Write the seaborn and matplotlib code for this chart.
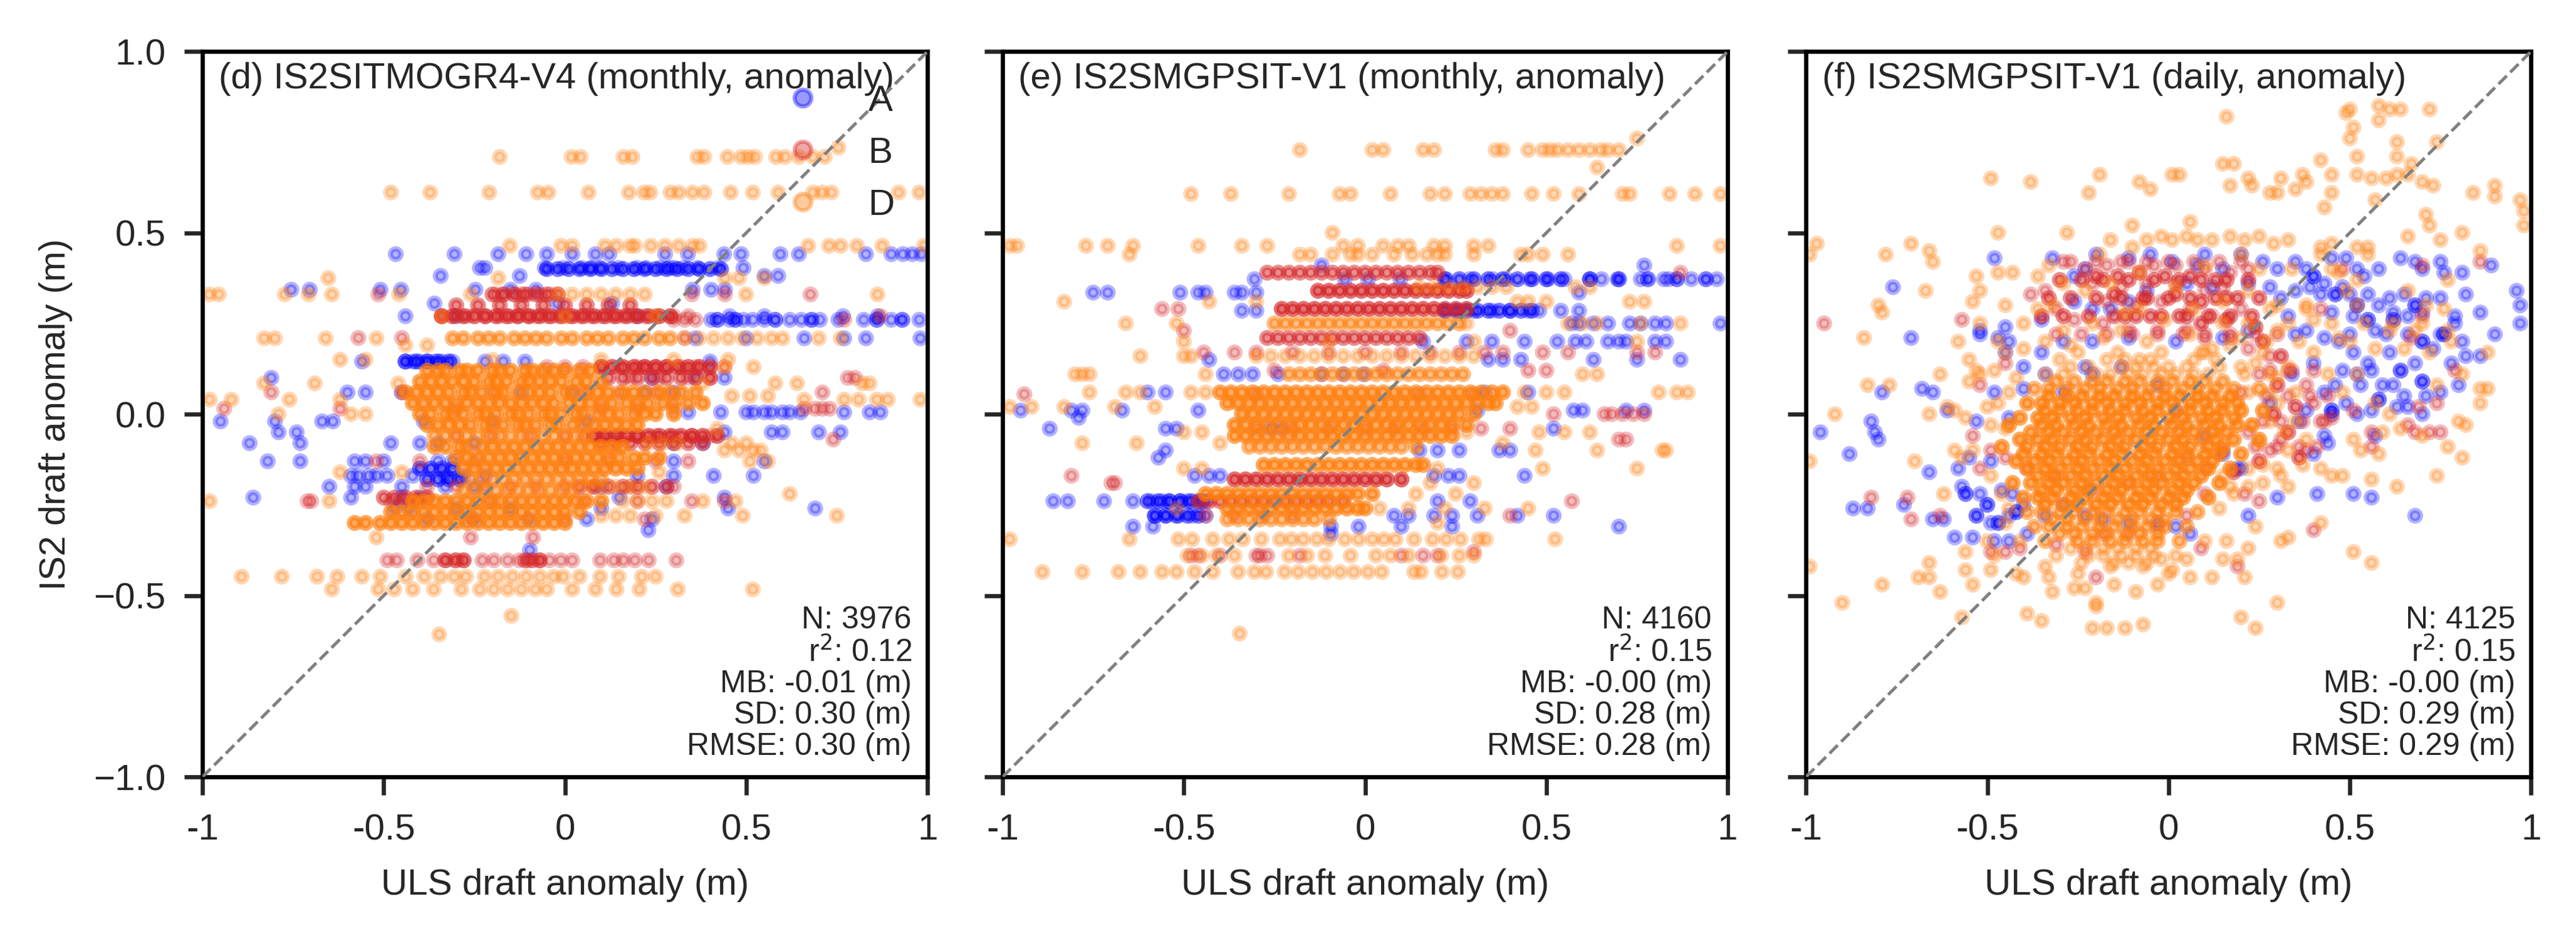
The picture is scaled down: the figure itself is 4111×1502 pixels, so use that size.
import numpy as np
import pandas as pd
import seaborn as sns
import matplotlib.pyplot as plt
from matplotlib.lines import Line2D

# ---- labels / stats -------------------------------------------------------
sites = ['A', 'B', 'D']
site_colors = ['blue', 'tab:red', 'tab:orange']
panel_titles = ['(d) IS2SITMOGR4-V4 (monthly, anomaly)',
                '(e) IS2SMGPSIT-V1 (monthly, anomaly)',
                '(f) IS2SMGPSIT-V1 (daily, anomaly)']
n_obs = [3976, 4160, 4125]
r2_vals = ['0.12', '0.15', '0.15']
mb_vals = ['-0.01', '-0.00', '-0.00']
sd_vals = ['0.30', '0.28', '0.29']
rmse_vals = ['0.30', '0.28', '0.29']
tick_vals = [-1, -0.5, 0, 0.5, 1]
xtick_labels = ['-1', '-0.5', '0', '0.5', '1']

# ---- panel (d): rows of (IS2 anomaly, [ULS anomalies]) --
# rows with three entries are (IS2, number of stacked obs, [ULS])
d_A_rows = [
    (0.441, [-0.467, -0.305, -0.184, -0.107, -0.05, 0.02, 0.084, 0.122, 0.276, 0.339, 0.439, 0.486, 0.594, 0.645, 0.83, 0.90, 0.932, 0.958, 0.983]),
    (0.403, [-0.235, -0.22, -0.056, -0.005, 0.046, 0.071, 0.097, 0.148, 0.199, 0.224, 0.263, 0.288, 0.30, 0.327, 0.365, 0.422, 0.492]),
    (0.381, [-0.343, -0.125, 0.55, 0.588]),
    (0.343, [-0.755, -0.704, -0.509, -0.452, -0.247, -0.15, -0.08, 0.352, 0.403, 0.441]),
    (0.305, [-0.36, -0.02, 0.13]),
    (0.27, [-0.44, -0.30, 0.20, 0.454, 0.55, 0.767, 0.862]),
    (0.26, [0.403, 0.454, 0.492, 0.518, 0.55, 0.62, 0.652, 0.703, 0.754, 0.824, 0.90, 0.977]),
    (0.209, [0.36, 0.50, 0.66, 0.77, 0.83, 0.98]),
    (0.145, [-0.56, -0.44, -0.42, -0.40, -0.38, -0.36, -0.34, -0.31, -0.22, -0.17, -0.11, 0.40]),
    (0.10, [-0.81, 0.24, 0.36, 0.44]),
    (0.06, [-0.60, -0.55, -0.45, -0.12, 0.02, 0.22, 0.30]),
    (0.005, [0.34, 0.43, 0.50, 0.52, 0.55, 0.57, 0.60, 0.62, 0.65, 0.77, 0.84, 0.87]),
    (-0.02, [-0.95, -0.80, -0.67, -0.64, -0.39, -0.20, 0.06]),
    (-0.05, [-0.79, -0.74, 0.44, 0.57, 0.60, 0.70, 0.76]),
    (-0.08, [-0.87, -0.73, -0.48, -0.40, -0.35, -0.25, 0.30, 0.38]),
    (-0.13, [-0.82, -0.73, -0.58, -0.55, -0.50, -0.35, -0.31, 0.30, 0.55]),
    (-0.17, [-0.59, -0.57, -0.54, -0.52, -0.49, -0.42, -0.33, -0.28, -0.22, 0.20, 0.30, 0.41, 0.52]),
    (-0.20, [-0.65, -0.58, -0.55, -0.45, -0.33, -0.25, 0.10, 0.28]),
    (-0.23, [-0.86, -0.59, -0.45, -0.40, 0.15, 0.44]),
    (-0.26, [-0.47, -0.43, -0.30, -0.15, 0.10, 0.45, 0.69]),
    (-0.29, [-0.38, -0.25, -0.10, 0.06, 0.24]),
    (-0.32, [0.23]),
    (-0.375, [-0.097]),
    (0.40, 2, [-0.05, -0.02, 0.01, 0.04, 0.07, 0.10, 0.13, 0.16, 0.19, 0.22, 0.25, 0.28, 0.31, 0.34, 0.37, 0.40, 0.43]),
    (0.145, 2, [-0.44, -0.41, -0.38, -0.35, -0.32]),
    (-0.15, 2, [-0.40, -0.37, -0.34, -0.31]),
    (-0.18, 2, [-0.38, -0.35, -0.32, -0.29]),
    (0.26, 2, [0.42, 0.47, 0.58, 0.68, 0.86, 0.93]),
]
d_B_rows = [
    (0.33, [-0.515, -0.19, -0.17, -0.14, -0.12, -0.10, -0.07, -0.04, 0.35, 0.441, 0.677]),
    (0.27, [-0.34, -0.30, -0.27, -0.22, -0.18, -0.15, -0.13, -0.10, -0.08, -0.05, -0.02, 0.01, 0.04, 0.07, 0.10, 0.13, 0.16, 0.19, 0.22, 0.25, 0.30, 0.34, 0.87]),
    (0.26, [0.30, 0.33, 0.36, 0.77]),
    (0.21, [-0.57, -0.45, 0.33]),
    (0.13, [-0.05, 0.0, 0.05, 0.10, 0.15, 0.20, 0.22, 0.25, 0.28, 0.32, 0.36, 0.44]),
    (0.10, [0.18, 0.26, 0.34, 0.40, 0.78, 0.80]),
    (0.06, [-0.81, -0.45, -0.20, 0.05, 0.15, 0.25, 0.71]),
    (0.015, [-0.94, -0.62, -0.30, 0.10, 0.20, 0.30, 0.66, 0.69, 0.71, 0.73]),
    (-0.06, [-0.30, -0.20, -0.10, 0.0, 0.05, 0.10, 0.15, 0.20, 0.25, 0.30, 0.35, 0.40]),
    (-0.07, [0.74]),
    (-0.13, [-0.52, -0.40, -0.25, 0.0, 0.12, 0.25, 0.34]),
    (-0.20, [-0.38, -0.30, -0.22, -0.15, -0.08, 0.0, 0.08, 0.18, 0.30]),
    (-0.24, [-0.71, -0.70, -0.48, -0.45, -0.41, -0.20, 0.05, 0.20, 0.35, 0.44]),
    (-0.29, [-0.26, 0.0, 0.22]),
    (-0.34, [-0.26, -0.088]),
    (-0.403, [-0.49, -0.464, -0.407, -0.362, -0.33, -0.305, -0.279, -0.228, -0.196, -0.158, -0.126, -0.101, -0.069, -0.043, -0.011, 0.02, 0.097, 0.135, 0.161, 0.193, 0.231, 0.307]),
    (0.27, 3, [-0.34, -0.31, -0.28, -0.25, -0.22, -0.19, -0.16, -0.13, -0.10, -0.07, -0.04, -0.01, 0.02, 0.05, 0.08, 0.11, 0.14, 0.17, 0.20, 0.23, 0.26, 0.29]),
    (0.30, 2, [-0.30, -0.24, -0.18, -0.12, -0.06, 0.0, 0.06, 0.12, 0.18]),
    (0.33, 2, [-0.20, -0.17, -0.14, -0.11, -0.08, -0.05, -0.02]),
    (0.13, 3, [0.10, 0.13, 0.16, 0.19, 0.22, 0.25, 0.28, 0.31, 0.34, 0.37, 0.40]),
    (0.10, 2, [0.12, 0.16, 0.20, 0.24, 0.28, 0.32, 0.36, 0.40]),
    (-0.06, 3, [0.08, 0.11, 0.14, 0.17, 0.20, 0.23, 0.26, 0.29, 0.32, 0.35, 0.38, 0.42]),
    (-0.08, 2, [0.10, 0.14, 0.18, 0.22, 0.26, 0.30, 0.34, 0.38]),
    (-0.20, 2, [0.04, 0.08, 0.12, 0.16, 0.20, 0.24, 0.28]),
    (-0.23, 2, [-0.50, -0.47, -0.44, -0.41, -0.38]),
    (-0.403, 2, [-0.33, -0.30, -0.28, -0.11, -0.09, -0.07]),
]
d_D_rows = [
    (0.735, [0.754]),
    (0.709, [-0.18, 0.018, 0.043, 0.161, 0.186, 0.365, 0.384, 0.448, 0.486, 0.505, 0.524, 0.582, 0.607, 0.645, 0.684, 0.716]),
    (0.611, [-0.48, -0.372, -0.209, -0.075, -0.046, 0.065, 0.176, 0.218, 0.235, 0.291, 0.314, 0.352, 0.384, 0.457, 0.518, 0.588, 0.684, 0.709, 0.735, 0.92, 0.977]),
    (0.464, [-0.152, -0.011, 0.02, 0.11, 0.142, 0.18, 0.193, 0.237, 0.276, 0.314, 0.352, 0.371, 0.671, 0.728, 0.76, 0.805, 0.875, 0.99]),
    (0.375, [-0.653, -0.184, 0.441, 0.48, 0.55]),
    (0.33, [-0.981, -0.955, -0.773, -0.707, -0.643, -0.458, -0.26, -0.02, 0.02, 0.06, 0.10, 0.14, 0.18, 0.22, 0.499, 0.862]),
    (0.27, [-0.34, 0.0, 0.25]),
    (0.209, [-0.83, -0.80, -0.66, -0.52, 0.33, 0.37, 0.41, 0.45, 0.49, 0.53, 0.57, 0.60, 0.70, 0.76]),
    (0.19, [-0.44, -0.38]),
    (0.15, [-0.62, -0.55, -0.20, 0.10, 0.30, 0.45]),
    (0.13, [0.44, 0.52]),
    (0.085, [-0.83, -0.69, -0.46, 0.38, 0.58, 0.64, 0.82, 0.84]),
    (0.05, [0.46, 0.51, 0.56]),
    (0.04, [-0.98, -0.92, -0.76, -0.62, 0.66, 0.77, 0.81, 0.86, 0.89, 0.98]),
    (0.0, [-0.79, -0.59, -0.55]),
    (-0.04, [0.42]),
    (-0.08, [0.23, 0.27, 0.31, 0.46, 0.50]),
    (-0.10, [0.44, 0.48, 0.52, 0.54]),
    (-0.13, [0.51, 0.56]),
    (-0.16, [-0.62, -0.45, 0.26]),
    (-0.20, [0.06, 0.10, 0.14, 0.18, 0.22]),
    (-0.22, [0.62]),
    (-0.24, [-0.98, -0.65, 0.16, 0.20, 0.24, 0.28, 0.38, 0.47]),
    (-0.28, [0.10, 0.14, 0.18, 0.25, 0.33, 0.49, 0.75]),
    (-0.34, [-0.52]),
    (-0.448, [-0.892, -0.781, -0.684, -0.628, -0.56, -0.509, -0.439, -0.388, -0.343, -0.305, -0.273, -0.222, -0.184, -0.145, -0.107, -0.069, -0.031, -0.005, 0.04, 0.097, 0.148, 0.212, 0.25]),
    (-0.483, [-0.643, -0.515, -0.471, -0.42, -0.362, -0.286, -0.235, -0.196, -0.158, -0.12, -0.082, -0.05, 0.02, 0.084, 0.142, 0.205, 0.311, 0.518]),
    (-0.556, [-0.148]),
    (-0.607, [-0.347]),
    (0.209, 2, [-0.31, -0.28, -0.24, -0.21, -0.18, -0.14, -0.11, -0.08, -0.05, -0.01, 0.02, 0.06, 0.09, 0.12, 0.16, 0.19, 0.22, 0.26, 0.29]),
    (0.12, 3, [-0.38, -0.35, -0.33, -0.29, -0.27, -0.24, -0.20, -0.18, -0.15, -0.11, -0.09, -0.06, -0.03, 0.0, 0.04, 0.07]),
    (0.09, 3, [-0.40, -0.37, -0.34, -0.31, -0.28, -0.25, -0.21, -0.19, -0.16, -0.12, -0.10, -0.07, -0.04, -0.01, 0.03, 0.06, 0.10]),
    (0.06, 3, [-0.44, -0.41, -0.38, -0.35, -0.32, -0.28, -0.26, -0.23, -0.19, -0.17, -0.13, -0.10, -0.07, -0.04, 0.0, 0.02, 0.06, 0.09, 0.12, 0.16, 0.19, 0.22, 0.26, 0.29, 0.32, 0.36]),
    (0.03, 3, [-0.42, -0.39, -0.36, -0.33, -0.30, -0.27, -0.24, -0.21, -0.18, -0.15, -0.12, -0.09, -0.06, -0.03, 0.01, 0.04, 0.07, 0.10, 0.13, 0.17, 0.20, 0.23, 0.27, 0.30, 0.34, 0.38]),
    (0.0, 3, [-0.40, -0.37, -0.33, -0.31, -0.28, -0.24, -0.22, -0.19, -0.15, -0.13, -0.10, -0.06, -0.04, -0.01, 0.03, 0.05, 0.09, 0.12, 0.15, 0.19, 0.22, 0.25, 0.30]),
    (-0.03, 3, [-0.38, -0.35, -0.32, -0.29, -0.26, -0.22, -0.20, -0.17, -0.13, -0.11, -0.08, -0.04, -0.02, 0.02, 0.05, 0.08, 0.11, 0.14, 0.17, 0.20]),
    (-0.06, 2, [-0.36, -0.33, -0.30, -0.27, -0.24, -0.21, -0.18, -0.15, -0.12, -0.09, -0.06, -0.03, 0.0, 0.03, 0.06]),
    (-0.09, 3, [-0.36, -0.33, -0.29, -0.27, -0.23, -0.20, -0.17, -0.14, -0.11, -0.08, -0.05, -0.02, 0.01, 0.04, 0.07, 0.10, 0.13, 0.16]),
    (-0.12, 3, [-0.30, -0.27, -0.24, -0.21, -0.18, -0.15, -0.12, -0.09, -0.06, -0.03, 0.0, 0.03, 0.06, 0.09, 0.12, 0.15, 0.19, 0.22, 0.26]),
    (-0.15, 3, [-0.28, -0.25, -0.22, -0.19, -0.16, -0.13, -0.10, -0.07, -0.04, -0.01, 0.02, 0.05, 0.08, 0.11, 0.14, 0.17, 0.20]),
    (-0.18, 2, [-0.26, -0.23, -0.20, -0.17, -0.14, -0.11, -0.08, -0.05, -0.02, 0.01, 0.04, 0.07, 0.10]),
    (-0.21, 2, [-0.28, -0.25, -0.22, -0.19, -0.16, -0.13, -0.10, -0.07, -0.04, -0.01, 0.02]),
    (-0.24, 3, [-0.42, -0.39, -0.36, -0.33, -0.30, -0.27, -0.24, -0.21, -0.18, -0.15, -0.12, -0.09, -0.06, -0.03, 0.0, 0.03, 0.06, 0.10]),
    (-0.27, 3, [-0.48, -0.45, -0.42, -0.39, -0.36, -0.33, -0.30, -0.27, -0.24, -0.21, -0.18, -0.15, -0.12, -0.09, -0.06, -0.03, 0.0, 0.04]),
    (-0.30, 3, [-0.58, -0.55, -0.51, -0.48, -0.45, -0.42, -0.39, -0.36, -0.33, -0.30, -0.27, -0.24, -0.21, -0.18, -0.15, -0.12, -0.09, -0.06, -0.03, 0.0]),
]

# ---- panel (e) --------------------------------------------------------------
e_A_rows = [
    (0.41, [-0.12, 0.77]),
    (0.372, [-0.305, -0.056, 0.008, 0.097, 0.224, 0.288, 0.352, 0.39, 0.454, 0.505, 0.55, 0.62, 0.652, 0.696, 0.76, 0.824, 0.837, 0.90, 0.97]),
    (0.335, [-0.75, -0.71, -0.51, -0.46, -0.44, -0.36, -0.34, -0.30, 0.59]),
    (0.285, [-0.34, -0.30, 0.22, 0.26, 0.30, 0.35, 0.40, 0.45, 0.48, 0.54, 0.59]),
    (0.25, [0.57, 0.59, 0.63, 0.67, 0.73, 0.76, 0.80, 0.83, 0.98]),
    (0.20, [0.16, 0.28, 0.35, 0.44, 0.53, 0.58, 0.61, 0.67, 0.70, 0.72, 0.80, 0.83]),
    (0.15, [-0.43, 0.34, 0.38, 0.43, 0.63, 0.75, 0.87]),
    (0.11, [-0.39, -0.35, -0.31, -0.24, -0.12, -0.06, -0.005]),
    (0.06, [-0.60, -0.55, 0.33, 0.45]),
    (0.01, [-0.95, -0.81, -0.78, -0.67, -0.46, 0.31, 0.575, 0.60, 0.72, 0.77]),
    (-0.01, [-0.79]),
    (-0.04, [-0.87, -0.55, -0.52, -0.26, -0.23, 0.52]),
    (-0.10, [-0.55, 0.15, 0.20, 0.26, 0.37, 0.40]),
    (-0.12, [-0.57]),
    (-0.17, [-0.47, -0.43, -0.40, 0.19, 0.23, 0.26, 0.44]),
    (-0.24, [-0.86, -0.82, -0.72, -0.64, -0.59, -0.56, -0.54, -0.51, -0.49, -0.46, -0.44, 0.20, 0.29]),
    (-0.28, [-0.58, -0.55, -0.515, -0.477, -0.44, 0.08, 0.12, 0.19, 0.24, 0.31, 0.42, 0.52]),
    (-0.31, [-0.64, -0.585, -0.094, -0.018, 0.10, 0.24, 0.70]),
    (-0.33, [-0.094]),
    (0.372, 2, [0.22, 0.26, 0.30, 0.34, 0.38, 0.42, 0.46, 0.50, 0.54, 0.62, 0.70, 0.78, 0.86, 0.94]),
    (0.285, 2, [0.22, 0.25, 0.28, 0.31, 0.34, 0.37, 0.40, 0.43, 0.46]),
    (-0.24, 2, [-0.60, -0.57, -0.54, -0.51, -0.48, -0.45]),
    (-0.28, 2, [-0.58, -0.55, -0.52, -0.49, -0.46]),
]
e_B_rows = [
    (0.39, [0.87]),
    (0.29, [-0.56, -0.515]),
    (0.23, [-0.50, 0.40]),
    (0.17, [-0.445, -0.36, -0.30, -0.20, -0.10, 0.0, 0.10, 0.18, 0.26, 0.33, 0.38, 0.49, 0.56, 0.75, 0.80]),
    (0.12, [-0.25, 0.05, 0.45, 0.50]),
    (0.055, [-0.94, -0.30, 0.15, 0.30]),
    (0.0, [0.52, 0.66, 0.68, 0.71, 0.74, 0.77]),
    (-0.04, [-0.30, -0.20, -0.10, 0.0, 0.08, 0.16, 0.24, 0.32, 0.40]),
    (-0.07, [0.70, 0.72]),
    (-0.17, [-0.81]),
    (-0.19, [-0.70, -0.69]),
    (-0.24, [0.57]),
    (-0.28, [-0.44, -0.36, -0.28, -0.20, 0.40]),
    (-0.38, [0.30]),
    (-0.39, [-0.48, -0.46, -0.40, -0.30, -0.29, -0.27, -0.18, 0.10, 0.16, 0.20]),
    (0.39, 2, [-0.27, -0.24, -0.21, -0.18, -0.15, -0.12, -0.09, -0.06, -0.03, 0.0, 0.03, 0.06, 0.09, 0.12, 0.15, 0.18, 0.20]),
    (0.34, 3, [-0.13, -0.10, -0.07, -0.04, -0.01, 0.02, 0.05, 0.08, 0.11, 0.14, 0.17, 0.20, 0.23, 0.26, 0.28]),
    (0.29, 3, [-0.23, -0.20, -0.17, -0.14, -0.11, -0.08, -0.05, -0.02, 0.01, 0.04, 0.07, 0.10, 0.13, 0.16, 0.19, 0.22, 0.25, 0.28]),
    (0.21, 2, [-0.27, -0.24, -0.21, -0.18, -0.15, -0.12, -0.09, -0.06, -0.03, 0.0, 0.03, 0.06, 0.09, 0.12, 0.15]),
    (-0.18, 3, [-0.36, -0.33, -0.30, -0.27, -0.24, -0.21, -0.18, -0.15, -0.12, -0.09, -0.06, -0.03, 0.0, 0.03, 0.06, 0.10]),
    (-0.24, 2, [-0.46, -0.43, -0.40, -0.37, -0.34, -0.31, -0.28, -0.25, -0.22, -0.19, -0.16, -0.13, -0.10, -0.06]),
]
e_D_rows = [
    (0.76, [0.75]),
    (0.728, [-0.18, 0.02, 0.05, 0.16, 0.19, 0.36, 0.38, 0.45, 0.49, 0.51, 0.53, 0.56, 0.59, 0.62, 0.65, 0.67, 0.70]),
    (0.68, [0.64]),
    (0.607, [-0.48, -0.37, -0.21, -0.07, -0.04, 0.07, 0.18, 0.22, 0.29, 0.32, 0.35, 0.38, 0.46, 0.52, 0.59, 0.71, 0.73, 0.84, 0.91, 0.98]),
    (0.50, [-0.09]),
    (0.464, [-0.98, -0.96, -0.77, -0.71, -0.64, -0.46, -0.34, -0.27, -0.06, -0.02, 0.05, 0.09, 0.12, 0.19, 0.22, 0.30, 0.34, 0.86, 0.98]),
    (0.44, [-0.65, -0.18, -0.15, -0.09, -0.04, -0.02, 0.02, 0.08, 0.13, 0.17, 0.20, 0.22, 0.30, 0.43, 0.45, 0.49, 0.56]),
    (0.35, [0.15, 0.19, 0.23, 0.27, 0.31, 0.35, 0.39, 0.58, 0.62]),
    (0.31, [-0.83, -0.43, -0.30, 0.42, 0.45, 0.50, 0.73, 0.77]),
    (0.25, [-0.66, -0.52, 0.28, 0.56, 0.60, 0.64, 0.76, 0.87]),
    (0.20, [-0.50, -0.10, 0.30, 0.75]),
    (0.16, [-0.62, -0.50, -0.48, -0.30, -0.26, -0.22, -0.18, -0.14, -0.10, -0.06, -0.02, 0.02, 0.06, 0.10, 0.14, 0.18, 0.22, 0.26, 0.30]),
    (0.11, [-0.80, -0.78, -0.76, -0.44, 0.60, 0.64]),
    (0.06, [-0.76, -0.66, -0.62, -0.48, -0.44, 0.44, 0.50, 0.55, 0.81, 0.86, 0.89]),
    (0.02, [-0.98, -0.92, -0.83, -0.69, -0.58, 0.42, 0.46]),
    (-0.05, [-0.50, -0.45, 0.28, 0.48, 0.55, 0.62]),
    (-0.08, [-0.78, -0.63, -0.40, 0.38]),
    (-0.10, [0.47, 0.64, 0.82, 0.83]),
    (-0.15, [-0.50, -0.45, 0.20, 0.49, 0.75]),
    (-0.19, [0.18, 0.30]),
    (-0.22, [0.14, 0.25]),
    (-0.26, [-0.52, 0.04, 0.12, 0.22, 0.33, 0.45]),
    (-0.30, [0.20]),
    (-0.345, [-0.98, -0.65, -0.515, -0.477, -0.42, -0.375, -0.337, -0.286, -0.235, -0.203, -0.171, -0.133, -0.10, -0.056, -0.018, 0.02, 0.052, 0.084, 0.135, 0.186, 0.224, 0.263, 0.314, 0.333, 0.524]),
    (-0.39, [-0.49, -0.45, -0.41, -0.36, -0.21, -0.16, -0.11, -0.04, 0.03, 0.07, 0.12, 0.21, 0.26, 0.30]),
    (-0.435, [-0.89, -0.78, -0.68, -0.62, -0.56, -0.52, -0.47, -0.42, -0.35, -0.305, -0.273, -0.222, -0.184, -0.145, -0.107, -0.069, -0.031, 0.008, 0.046, 0.135, 0.154, 0.212, 0.256]),
    (-0.605, [-0.346]),
    (0.25, 2, [-0.25, -0.22, -0.19, -0.16, -0.13, -0.10, -0.07, -0.04, -0.01, 0.02, 0.05, 0.08, 0.11, 0.14, 0.17, 0.20, 0.23, 0.26]),
    (0.11, 2, [-0.21, -0.18, -0.15, -0.12, -0.09, -0.06, -0.03, 0.0, 0.03, 0.06, 0.09, 0.12, 0.15, 0.18, 0.21, 0.24, 0.27]),
    (0.06, 3, [-0.40, -0.37, -0.34, -0.31, -0.28, -0.25, -0.22, -0.19, -0.16, -0.13, -0.10, -0.07, -0.04, -0.01, 0.02, 0.05, 0.08, 0.11, 0.14, 0.17, 0.20, 0.23, 0.26, 0.29, 0.32, 0.35, 0.38]),
    (0.03, 3, [-0.38, -0.35, -0.32, -0.29, -0.26, -0.23, -0.20, -0.17, -0.14, -0.11, -0.08, -0.05, -0.02, 0.01, 0.04, 0.07, 0.10, 0.13, 0.16, 0.19, 0.22, 0.25, 0.28, 0.31, 0.34, 0.36]),
    (0.0, 3, [-0.34, -0.31, -0.28, -0.25, -0.22, -0.19, -0.16, -0.13, -0.10, -0.07, -0.04, -0.01, 0.02, 0.05, 0.08, 0.11, 0.14, 0.17, 0.20, 0.23, 0.26, 0.30]),
    (-0.03, 3, [-0.36, -0.33, -0.30, -0.27, -0.24, -0.21, -0.18, -0.15, -0.12, -0.09, -0.06, -0.03, 0.0, 0.03, 0.06, 0.09, 0.12, 0.15, 0.18, 0.21, 0.24, 0.28]),
    (-0.06, 3, [-0.36, -0.33, -0.30, -0.27, -0.24, -0.21, -0.18, -0.15, -0.12, -0.09, -0.06, -0.03, 0.0, 0.03, 0.06, 0.09, 0.12, 0.15, 0.18, 0.21, 0.24]),
    (-0.09, 2, [-0.32, -0.29, -0.26, -0.23, -0.20, -0.17, -0.14, -0.11, -0.08, -0.05, -0.02, 0.01, 0.04, 0.07, 0.10, 0.14]),
    (-0.14, 3, [-0.28, -0.25, -0.22, -0.19, -0.16, -0.13, -0.10, -0.07, -0.04, -0.01, 0.02, 0.05, 0.08, 0.11, 0.14, 0.16]),
    (-0.22, 3, [-0.44, -0.41, -0.38, -0.35, -0.32, -0.29, -0.26, -0.23, -0.20, -0.17, -0.14, -0.11, -0.08, -0.05, -0.02, 0.02]),
    (-0.26, 3, [-0.38, -0.35, -0.32, -0.29, -0.26, -0.23, -0.20, -0.17, -0.14, -0.11, -0.08, -0.05, -0.02, 0.0]),
    (-0.29, 2, [-0.38, -0.35, -0.32, -0.29, -0.26, -0.23, -0.20, -0.17, -0.14, -0.10]),
]

# ---- panel (f): scattered (ULS, IS2[, stacked obs]) pairs ---------------------
f_A_pts = [
    (-0.48, 0.43), (-0.32, 0.43), (-0.26, 0.38), (-0.23, 0.40), (-0.11, 0.43), (0.01, 0.42), (0.08, 0.41),
    (0.15, 0.40), (0.26, 0.42), (0.35, 0.42), (0.45, 0.43), (0.49, 0.43), (0.64, 0.43), (0.68, 0.42),
    (0.75, 0.42), (0.81, 0.39), (0.89, 0.41), (0.96, 0.34), (0.97, 0.30), (0.97, 0.25), (0.76, 0.39),
    (0.54, 0.38), (0.48, 0.35), (0.43, 0.36), (0.39, 0.35), (0.35, 0.34), (0.31, 0.32), (0.28, 0.35),
    (0.22, 0.36), (0.12, 0.35), (0.05, 0.36), (-0.06, 0.34), (-0.11, 0.31), (-0.16, 0.29), (-0.21, 0.29),
    (-0.26, 0.31), (-0.35, 0.26), (-0.45, 0.24), (-0.47, 0.21), (-0.52, 0.23), (-0.44, 0.20), (-0.45, 0.17),
    (-0.34, 0.11), (-0.40, 0.13), (-0.29, 0.20), (-0.21, 0.20), (-0.11, 0.21), (0.02, 0.20), (0.15, 0.21),
    (0.22, 0.23), (0.33, 0.27), (0.38, 0.23), (0.43, 0.21), (0.47, 0.20), (0.51, 0.27), (0.58, 0.30),
    (0.61, 0.32), (0.66, 0.27), (0.71, 0.32), (0.75, 0.32), (0.79, 0.27), (0.79, 0.25), (0.81, 0.20),
    (0.82, 0.16), (0.86, 0.16), (0.73, 0.18), (0.66, 0.22), (0.61, 0.17), (0.57, 0.23), (0.51, 0.17),
    (0.48, 0.12), (0.52, 0.11), (0.56, 0.12), (0.59, 0.08), (0.65, 0.05), (0.71, 0.05), (0.75, 0.06),
    (0.63, 0.02), (0.56, 0.01), (0.66, 0.02), (0.57, -0.06), (0.49, 0.03), (0.43, 0.06), (0.38, 0.01),
    (0.36, -0.02), (0.43, -0.06), (0.40, -0.11), (0.51, -0.22), (0.56, -0.23), (0.41, -0.22), (0.68, -0.28),
    (0.30, -0.23), (0.20, -0.15), (0.15, -0.11), (0.10, -0.06), (0.02, 0.01), (-0.03, 0.08), (-0.13, 0.13),
    (-0.21, 0.11), (-0.29, 0.06), (-0.48, 0.06), (-0.44, -0.01), (-0.53, -0.02), (-0.61, 0.01), (-0.68, 0.07),
    (-0.65, 0.06), (-0.79, 0.06), (-0.82, -0.02), (-0.81, -0.05), (-0.80, -0.07), (-0.96, -0.05), (-0.88, -0.11),
    (-0.66, -0.16), (-0.58, -0.15), (-0.55, -0.12), (-0.49, -0.13), (-0.57, -0.20), (-0.52, -0.22), (-0.46, -0.21),
    (-0.43, -0.22), (-0.40, -0.25), (-0.44, -0.28), (-0.49, -0.30), (-0.54, -0.34), (-0.59, -0.34), (-0.62, -0.29),
    (-0.65, -0.29), (-0.73, -0.25), (-0.83, -0.26), (-0.87, -0.26), (-0.48, -0.35), (-0.44, -0.35), (-0.39, -0.33),
    (-0.34, -0.28), (-0.29, -0.25), (-0.23, -0.28), (-0.18, -0.29), (-0.11, -0.30), (-0.03, -0.30), (0.06, -0.33),
    (0.02, -0.31), (0.22, -0.28), (0.19, -0.15), (0.28, 0.03), (0.34, 0.11), (-0.35, 0.17), (-0.23, 0.13),
    (-0.40, 0.07), (-0.76, 0.35), (-0.71, 0.21), (-0.52, 0.22), (0.44, -0.08),
    (0.40, 0.38, 2), (0.46, 0.33, 2), (0.52, 0.30, 2), (0.55, 0.26, 2), (0.62, 0.26, 2), (0.68, 0.30, 2),
    (0.70, 0.20, 2), (0.76, 0.22, 2), (0.64, 0.12, 2), (0.70, 0.09, 2), (0.58, 0.04, 2), (0.45, 0.01, 2),
    (-0.50, -0.25, 2), (-0.47, -0.30, 2), (-0.53, -0.28, 2), (-0.42, -0.27, 2), (-0.56, -0.22, 2),
]
f_B_pts = [
    (-0.29, 0.42), (-0.23, 0.40), (-0.17, 0.41), (-0.11, 0.42), (-0.04, 0.41), (0.02, 0.41), (0.10, 0.40),
    (0.17, 0.39), (0.22, 0.40), (-0.21, 0.36), (-0.13, 0.35), (-0.06, 0.36), (0.02, 0.36), (0.10, 0.34),
    (0.15, 0.35), (-0.17, 0.31), (-0.09, 0.30), (-0.02, 0.31), (0.06, 0.29), (0.12, 0.27), (0.20, 0.29),
    (0.05, 0.23), (-0.03, 0.23), (-0.11, 0.23), (-0.18, 0.25), (-0.26, 0.26), (-0.31, 0.29), (-0.34, 0.34),
    (-0.38, 0.33), (0.10, 0.21), (0.17, 0.21), (0.22, 0.18), (0.28, 0.16), (0.25, 0.11), (0.20, 0.06),
    (0.33, 0.12), (0.38, 0.08), (0.40, 0.03), (0.42, -0.02), (0.38, -0.10), (0.28, -0.10), (0.22, -0.05),
    (0.15, -0.10), (0.10, -0.15), (0.05, -0.12), (-0.03, -0.17), (-0.11, -0.19), (-0.21, -0.21), (-0.31, -0.17),
    (-0.39, -0.15), (-0.45, -0.12), (-0.49, -0.10), (-0.52, -0.15), (-0.54, -0.06), (-0.57, 0.26), (-0.45, 0.14),
    (-0.52, 0.08), (-0.95, 0.25), (-0.82, -0.23), (-0.72, -0.23), (-0.71, -0.29), (-0.63, -0.28), (-0.49, -0.38),
    (-0.45, -0.38), (-0.41, -0.37), (-0.31, -0.36), (-0.23, -0.38), (-0.20, -0.45), (0.09, -0.37), (0.19, -0.42),
    (0.40, -0.32), (0.56, -0.09), (0.66, -0.03), (0.68, -0.05), (0.72, -0.05), (0.75, -0.05), (0.74, 0.03),
    (0.69, 0.02), (0.70, 0.27), (0.67, 0.21), (0.79, 0.12), (0.86, 0.42), (0.70, 0.41), (0.48, 0.40),
    (0.42, 0.29), (0.10, -0.22), (0.05, -0.28), (-0.03, -0.31), (-0.11, -0.33), (-0.18, -0.33), (0.25, -0.24),
    (0.21, -0.22), (0.31, -0.07), (0.45, -0.01), (0.51, 0.01), (0.56, -0.05),
    (-0.20, 0.38, 2), (-0.14, 0.38, 2), (-0.08, 0.39, 2), (-0.01, 0.38, 2), (0.06, 0.38, 2), (0.13, 0.37, 2),
    (-0.15, 0.33, 2), (-0.06, 0.32, 2), (0.02, 0.33, 2), (0.09, 0.31, 2), (0.16, 0.32, 2), (-0.12, 0.27, 2),
    (-0.05, 0.27, 2), (0.03, 0.27, 2), (0.09, 0.25, 2), (0.16, 0.26, 2), (0.24, 0.24, 2), (0.26, 0.20, 2),
    (0.31, 0.16, 2), (0.30, 0.08, 2), (0.35, 0.02, 2), (0.33, -0.05, 2), (0.36, -0.12, 2), (0.25, -0.13, 2),
    (0.18, -0.16, 2), (0.29, 0.00, 2),
]
f_D_pts = [
    (0.16, 0.82), (0.49, 0.83), (0.50, 0.84), (0.58, 0.85), (0.61, 0.84), (0.64, 0.84), (0.72, 0.84),
    (0.58, 0.81), (0.51, 0.79), (0.50, 0.76), (0.63, 0.75), (0.74, 0.75), (0.63, 0.71), (0.52, 0.71),
    (0.42, 0.70), (0.15, 0.69), (0.18, 0.69), (0.67, 0.69), (0.37, 0.66), (0.45, 0.66), (0.52, 0.66),
    (0.56, 0.65), (0.60, 0.65), (0.63, 0.66), (0.66, 0.66), (0.70, 0.64), (0.73, 0.63), (0.90, 0.63),
    (0.84, 0.61), (0.90, 0.60), (0.97, 0.59), (0.98, 0.56), (0.43, 0.57), (0.45, 0.61), (0.57, 0.59),
    (0.31, 0.65), (0.35, 0.62), (0.38, 0.64), (0.28, 0.61), (0.30, 0.61), (0.23, 0.63), (0.22, 0.65),
    (0.17, 0.63), (0.03, 0.66), (0.01, 0.66), (-0.05, 0.62), (-0.08, 0.64), (-0.19, 0.66), (-0.22, 0.61),
    (-0.38, 0.64), (-0.49, 0.65), (0.06, 0.53), (-0.10, 0.52), (-0.28, 0.50), (-0.47, 0.50), (-0.16, 0.48),
    (-0.06, 0.48), (-0.02, 0.49), (0.01, 0.48), (0.05, 0.49), (0.08, 0.48), (0.12, 0.48), (0.17, 0.49),
    (0.21, 0.48), (0.25, 0.49), (0.33, 0.48), (0.29, 0.47), (0.42, 0.46), (0.45, 0.47), (0.52, 0.46),
    (0.55, 0.46), (0.66, 0.49), (0.71, 0.55), (0.72, 0.52), (0.75, 0.48), (0.81, 0.50), (0.86, 0.45),
    (0.98, 0.52), (-0.97, 0.47), (-0.99, 0.44), (-0.71, 0.47), (-0.78, 0.44), (-0.66, 0.45), (-0.65, 0.42),
    (-0.47, 0.39), (-0.43, 0.39), (-0.53, 0.38), (-0.52, 0.34), (-0.67, 0.34), (-0.80, 0.30), (-0.79, 0.28),
    (-0.84, 0.21), (-0.54, 0.31), (-0.36, 0.38), (-0.33, 0.41), (-0.19, 0.44), (-0.10, 0.46), (0.47, 0.39),
    (0.52, 0.37), (0.49, 0.34), (0.77, 0.37), (0.76, 0.29), (0.72, 0.17), (0.78, 0.20), (0.88, 0.17),
    (0.74, 0.08), (0.88, 0.07), (0.86, 0.03), (0.80, -0.02), (0.82, -0.03), (0.77, -0.09), (0.81, -0.12),
    (0.74, -0.17), (0.63, -0.20), (0.56, -0.18), (0.61, 0.00), (0.59, -0.05), (0.64, -0.04), (0.70, -0.06),
    (0.45, -0.17), (0.48, -0.17), (0.42, -0.15), (0.51, -0.38), (0.56, -0.41), (0.42, -0.30), (0.30, -0.52),
    (0.31, -0.35), (0.22, -0.37), (0.24, -0.59), (0.20, -0.56), (0.19, -0.40), (0.12, -0.45), (0.15, -0.40),
    (0.21, -0.45), (-0.07, -0.58), (-0.12, -0.59), (-0.17, -0.59), (-0.21, -0.59), (-0.20, -0.53), (-0.20, -0.52),
    (-0.23, -0.48), (-0.26, -0.48), (-0.32, -0.49), (-0.35, -0.57), (-0.39, -0.55), (-0.57, -0.56), (-0.63, -0.49),
    (-0.54, -0.47), (-0.56, -0.43), (-0.66, -0.45), (-0.69, -0.45), (-0.66, -0.41), (-0.79, -0.47), (-0.90, -0.52),
    (-0.99, -0.42), (-0.99, -0.13), (-0.92, 0.00), (-0.83, 0.08), (-0.77, 0.08), (-0.70, -0.13), (-0.63, 0.11),
    (-0.55, 0.15), (-0.55, 0.09), (-0.53, 0.12), (-0.52, 0.11), (-0.48, 0.12), (-0.42, 0.10), (-0.66, 0.00),
    (-0.61, 0.02), (-0.59, 0.01), (-0.56, -0.01), (-0.50, 0.02), (-0.49, -0.03), (-0.59, -0.10), (-0.57, -0.12),
    (-0.54, -0.10), (-0.62, -0.22), (-0.56, -0.38), (-0.49, -0.43), (-0.48, -0.39), (-0.42, -0.44), (-0.15, -0.47),
    (-0.09, -0.49), (-0.03, -0.47), (0.01, -0.43), (-0.02, -0.40), (0.33, -0.34), (0.24, -0.31), (0.26, -0.19),
    (0.31, -0.17), (0.37, -0.14),
    (-0.29, 0.23), (-0.21, 0.25), (-0.13, 0.23), (-0.08, 0.29), (-0.01, 0.26), (0.07, 0.29), (0.15, 0.31),
    (0.22, 0.34), (0.28, 0.29), (0.10, 0.41), (0.20, 0.44), (0.25, 0.40), (0.34, 0.40), (-0.23, 0.34),
    (-0.29, 0.36), (-0.16, 0.36), (-0.08, 0.39), (-0.36, 0.29), (-0.40, 0.18), (-0.45, 0.17), (-0.34, 0.20),
    (0.40, 0.17), (0.44, 0.11), (0.38, -0.07), (0.30, -0.15), (0.22, -0.15), (0.15, -0.17), (0.48, 0.06),
    (0.51, -0.07), (0.53, -0.10), (0.58, -0.11), (0.57, 0.03), (0.52, 0.11), (0.57, 0.18), (0.61, 0.23),
    (0.65, 0.18), (0.68, 0.23), (0.81, 0.11), (0.86, 0.07), (0.71, 0.30), (0.54, 0.25), (0.47, 0.21),
    (0.40, 0.26), (0.38, 0.29), (0.45, 0.40), (0.42, 0.44), (0.55, 0.44), (0.66, 0.34), (0.77, 0.23),
    (0.30, 0.23), (0.20, 0.13), (0.22, 0.06), (0.28, 0.11), (0.33, 0.13), (0.35, 0.06), (0.28, -0.02),
    (0.30, 0.03), (0.35, -0.02), (0.26, 0.17), (0.20, 0.21), (0.12, 0.18), (-0.44, 0.06), (-0.45, -0.30),
    (-0.46, -0.22), (-0.49, -0.17), (0.25, -0.08), (-0.06, 0.20), (0.15, 0.25), (0.02, 0.35), (-0.12, 0.28),
    (0.10, 0.17), (0.24, 0.14), (0.17, 0.19), (0.22, 0.25), (-0.44, -0.26), (-0.41, -0.35), (-0.34, -0.42),
    (-0.25, -0.44), (-0.16, -0.42), (-0.07, -0.42), (0.00, -0.44), (-0.45, -0.04), (-0.47, 0.03), (-0.08, 0.15),
    (-0.18, 0.21), (-0.27, 0.19), (0.06, 0.22), (0.28, 0.06), (0.30, 0.10), (0.32, -0.05), (0.33, -0.10),
    (0.26, -0.14), (0.18, -0.22), (0.14, -0.26), (0.05, -0.40),
]

# ---- panel (f): dense parts as rows of (IS2, stacked obs, [ULS]) -------------
f_A_rows = [
    (0.44, 1, [-0.20, -0.05, 0.10, 0.20]),
    (0.40, 1, [0.30, 0.38, 0.52, 0.58, 0.70]),
    (0.33, 1, [0.42, 0.50, 0.55, 0.65, 0.82]),
    (0.28, 1, [0.45, 0.62, 0.70, 0.86]),
    (0.22, 1, [0.35, 0.50, 0.60, 0.75, 0.90]),
    (0.14, 1, [0.40, 0.55, 0.68, 0.78]),
    (0.08, 1, [0.46, 0.53, 0.62, 0.80]),
    (0.00, 1, [0.45, 0.52, 0.70]),
]
f_B_rows = [
    (0.42, 1, [-0.27, -0.20, -0.13, -0.06, 0.0, 0.07, 0.14, 0.20]),
    (0.37, 2, [-0.30, -0.24, -0.18, -0.11, -0.04, 0.03, 0.09, 0.16, 0.22]),
    (0.32, 2, [-0.33, -0.27, -0.20, -0.13, -0.07, 0.0, 0.06, 0.13, 0.19, 0.25]),
    (0.27, 2, [-0.35, -0.29, -0.22, -0.15, -0.09, -0.02, 0.05, 0.11, 0.17, 0.23]),
    (0.22, 1, [-0.31, -0.24, -0.17, -0.10, -0.03, 0.04, 0.10, 0.17, 0.24, 0.30]),
    (0.12, 1, [0.28, 0.34, 0.40]),
    (0.05, 1, [0.27, 0.33, 0.39, 0.44]),
    (-0.02, 1, [0.26, 0.31, 0.37, 0.43]),
    (-0.09, 1, [0.24, 0.30, 0.36, 0.41]),
]
f_D_rows = [
    (0.30, 1, [-0.45, -0.32, 0.30, 0.38, 0.52]),
    (0.25, 1, [-0.52, -0.40, 0.33, 0.45, 0.62, 0.70]),
    (0.20, 1, [-0.58, -0.47, 0.27, 0.36, 0.50]),
    (0.17, 1, [-0.25, -0.14, -0.02, 0.09]),
    (0.15, 1, [-0.30, -0.17, -0.12, -0.05, 0.07, 0.13]),
    (0.13, 1, [-0.27, -0.22, -0.13, -0.09, -0.04, 0.0, 0.05, 0.14]),
    (0.11, 1, [-0.34, -0.29, -0.20, -0.16, -0.11, -0.07, -0.02, 0.02, 0.07, 0.11, 0.21]),
    (0.09, 2, [-0.31, -0.26, -0.21, -0.17, -0.12, -0.08, -0.03, 0.01, 0.06, 0.10, 0.15]),
    (0.07, 2, [-0.37, -0.33, -0.28, -0.23, -0.19, -0.14, -0.10, -0.05, -0.01, 0.04, 0.08, 0.13, 0.18, 0.25]),
    (0.05, 3, [-0.33, -0.28, -0.24, -0.19, -0.15, -0.10, -0.06, -0.01, 0.03, 0.08, 0.12, 0.17]),
    (0.03, 3, [-0.39, -0.35, -0.30, -0.26, -0.21, -0.17, -0.12, -0.08, -0.03, 0.01, 0.06, 0.10, 0.15, 0.19]),
    (0.01, 3, [-0.34, -0.30, -0.25, -0.21, -0.16, -0.12, -0.07, -0.03, 0.02, 0.06, 0.11, 0.15, 0.20, 0.26]),
    (-0.01, 3, [-0.41, -0.36, -0.32, -0.27, -0.23, -0.18, -0.14, -0.09, -0.05, 0.0, 0.04, 0.09, 0.13, 0.18]),
    (-0.03, 3, [-0.44, -0.35, -0.31, -0.26, -0.22, -0.17, -0.13, -0.08, -0.04, 0.01, 0.05, 0.10, 0.14, 0.19, 0.23]),
    (-0.05, 3, [-0.38, -0.33, -0.29, -0.24, -0.20, -0.15, -0.11, -0.06, -0.02, 0.03, 0.07, 0.12, 0.16]),
    (-0.07, 3, [-0.41, -0.36, -0.32, -0.27, -0.23, -0.18, -0.14, -0.09, -0.05, 0.0, 0.04, 0.09, 0.13, 0.18, 0.25]),
    (-0.09, 3, [-0.46, -0.39, -0.34, -0.30, -0.25, -0.21, -0.16, -0.12, -0.07, -0.03, 0.02, 0.06, 0.11, 0.15]),
    (-0.11, 3, [-0.40, -0.35, -0.31, -0.26, -0.22, -0.17, -0.13, -0.08, -0.04, 0.01, 0.05, 0.10, 0.14, 0.20]),
    (-0.13, 3, [-0.42, -0.37, -0.33, -0.28, -0.24, -0.19, -0.15, -0.10, -0.06, -0.01, 0.03, 0.08, 0.12]),
    (-0.15, 3, [-0.39, -0.34, -0.30, -0.25, -0.21, -0.16, -0.12, -0.07, -0.03, 0.02, 0.06, 0.11, 0.17]),
    (-0.17, 3, [-0.36, -0.32, -0.27, -0.23, -0.18, -0.14, -0.09, -0.05, 0.0, 0.04, 0.09]),
    (-0.19, 3, [-0.43, -0.38, -0.33, -0.29, -0.24, -0.20, -0.15, -0.11, -0.06, -0.02, 0.03, 0.07, 0.14]),
    (-0.21, 3, [-0.35, -0.31, -0.26, -0.22, -0.17, -0.13, -0.08, -0.04, 0.01, 0.05]),
    (-0.23, 3, [-0.40, -0.36, -0.32, -0.27, -0.23, -0.18, -0.14, -0.09, -0.05, 0.0, 0.04, 0.11]),
    (-0.25, 3, [-0.34, -0.29, -0.25, -0.20, -0.16, -0.11, -0.07, -0.02, 0.02]),
    (-0.27, 2, [-0.39, -0.35, -0.30, -0.26, -0.21, -0.17, -0.12, -0.08, -0.03, 0.02, 0.08]),
    (-0.29, 2, [-0.32, -0.28, -0.23, -0.19, -0.14, -0.10, -0.05, -0.01]),
    (-0.31, 2, [-0.37, -0.33, -0.28, -0.24, -0.19, -0.15, -0.10, -0.06, -0.01, 0.05]),
    (-0.33, 2, [-0.30, -0.26, -0.21, -0.17, -0.12, -0.08, -0.03]),
    (-0.35, 2, [-0.34, -0.25, -0.21, -0.16, -0.12, -0.07, -0.03, 0.03]),
    (-0.37, 1, [-0.27, -0.23, -0.18, -0.14, -0.09, -0.05]),
    (-0.39, 1, [-0.31, -0.22, -0.18, -0.13, -0.09, -0.04, 0.02]),
    (-0.41, 1, [-0.24, -0.15, -0.11, -0.06]),
    (-0.20, 1, [0.17, 0.22, 0.33]),
    (-0.35, 1, [-0.50, 0.10, 0.16]),
    (-0.45, 1, [-0.40, -0.33, 0.06]),
]


def rows_to_frame(rows, site):
    uls, is2 = [], []
    for row in rows:
        y, xs = row[0], row[-1]
        n = row[1] if len(row) == 3 else 1
        for x in xs:
            uls += [x] * n
            is2 += [y] * n
    return pd.DataFrame({'uls': uls, 'is2': is2, 'site': site})


def pts_to_frame(pts, site):
    uls, is2 = [], []
    for p in pts:
        n = p[2] if len(p) == 3 else 1
        uls += [p[0]] * n
        is2 += [p[1]] * n
    return pd.DataFrame({'uls': uls, 'is2': is2, 'site': site})


panel_frames = [
    pd.concat([rows_to_frame(d_A_rows, 'A'), rows_to_frame(d_B_rows, 'B'), rows_to_frame(d_D_rows, 'D')], ignore_index=True),
    pd.concat([rows_to_frame(e_A_rows, 'A'), rows_to_frame(e_B_rows, 'B'), rows_to_frame(e_D_rows, 'D')], ignore_index=True),
    pd.concat([pts_to_frame(f_A_pts, 'A'), rows_to_frame(f_A_rows, 'A'),
               pts_to_frame(f_B_pts, 'B'), rows_to_frame(f_B_rows, 'B'),
               pts_to_frame(f_D_pts, 'D'), rows_to_frame(f_D_rows, 'D')], ignore_index=True),
]

sns.set_style('ticks')
plt.rcParams['font.family'] = ['Liberation Sans', 'DejaVu Sans']
plt.rcParams['font.size'] = 7

fig = plt.figure(figsize=(4111 / 600, 1502 / 600), dpi=600)
lefts = [0.0786, 0.3892, 0.7011]
axes = [fig.add_axes([l, 0.1744, 0.2815, 0.771]) for l in lefts]
palette = dict(zip(sites, site_colors))

for i, ax in enumerate(axes):
    df = panel_frames[i]
    sns.scatterplot(data=df, x='uls', y='is2', hue='site', hue_order=sites, palette=palette,
                    s=4.2, alpha=0.3, edgecolor='face', linewidth=1.0, legend=False, ax=ax)
    # 1:1 line
    ax.plot([-1, 1], [-1, 1], ls='--', color='gray', lw=0.6, zorder=5)
    ax.set_xlim(-1, 1)
    ax.set_ylim(-1, 1)
    ax.set_xticks(tick_vals)
    ax.set_xticklabels(xtick_labels)
    ax.set_yticks(tick_vals)
    ax.tick_params(labelsize=7, length=3.5, width=0.8)
    for sp in ax.spines.values():
        sp.set_linewidth(0.8)
        sp.set_color('black')
    ax.set_xlabel('ULS draft anomaly (m)', fontsize=7)
    if i == 0:
        ax.set_ylabel('IS2 draft anomaly (m)', fontsize=7)
    else:
        ax.set_ylabel('')
        ax.set_yticklabels([])
    ax.text(0.022, 0.985, panel_titles[i], transform=ax.transAxes, ha='left', va='top', fontsize=7)
    stats = (f'N: {n_obs[i]}\n'
             f'r$^2$: {r2_vals[i]}\n'
             f'MB: {mb_vals[i]} (m)\n'
             f'SD: {sd_vals[i]} (m)\n'
             f'RMSE: {rmse_vals[i]} (m)')
    ax.text(0.978, 0.022, stats, transform=ax.transAxes, ha='right', va='bottom',
            fontsize=6, linespacing=1.1)

handles = [Line2D([], [], ls='', marker='o', color=c, alpha=0.4, markersize=3.2, markeredgewidth=0.8)
           for c in site_colors]
axes[0].legend(handles, sites, loc='upper right', frameon=False, fontsize=7)

fig.savefig('out.png', dpi=600)
